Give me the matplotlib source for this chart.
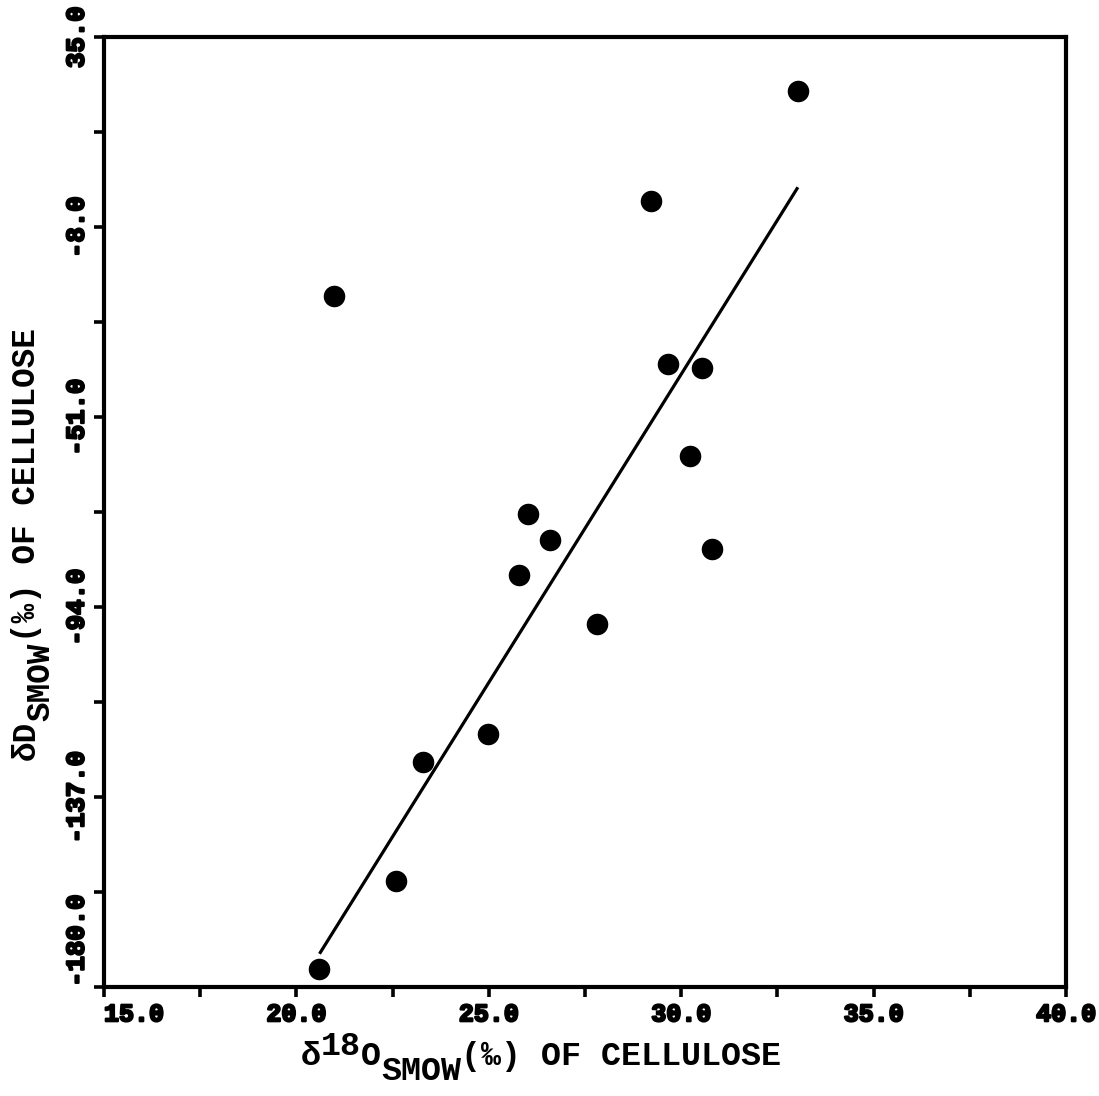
import matplotlib
matplotlib.use("Agg")
import matplotlib.pyplot as plt
import matplotlib.patheffects as pe
from matplotlib.ticker import FixedLocator
from matplotlib.transforms import offset_copy

# Isotope measurements of cellulose samples
d18o = [33.04, 29.21, 20.98, 29.65, 30.53, 30.23, 26.01, 26.6, 25.78, 30.81, 27.8, 24.97, 23.3, 22.6, 20.6]
dD = [22.8, -2.0, -23.6, -39.0, -39.9, -59.9, -73.0, -78.8, -86.8, -80.8, -97.8, -122.8, -129.1, -156.0, -175.9]

# Fitted line end points
fit_x = [20.6, 33.03]
fit_y = [-172.5, 1.0]

x_ticks = [15.0, 20.0, 25.0, 30.0, 35.0, 40.0]
x_ticklabels = ["15.0", "20.0", "25.0", "30.0", "35.0", "40.0"]
x_minor = [17.5, 22.5, 27.5, 32.5, 37.5]
y_ticks = [35.0, -8.0, -51.0, -94.0, -137.0, -180.0]
y_ticklabels = ["35.0", "-8.0", "-51.0", "-94.0", "-137.0", "-180.0"]
y_minor = [13.5, -29.5, -72.5, -115.5, -158.5]

# Axis titles as (text, character column, shift) pieces; shift: 0 normal, 1 raised, -1 lowered
x_title = [("\u03b4", 0, 0), ("18", 1, 1), ("O", 3, 0), ("SMOW", 4, -1), ("(\u2030) OF CELLULOSE", 8, 0)]
y_title = [("\u03b4D", 0, 0), ("SMOW", 2, -1), ("(\u2030) OF CELLULOSE", 6, 0)]

MONO = "Liberation Mono"

fig = plt.figure(figsize=(10.99, 10.96), dpi=100)
ax = fig.add_axes([0.0946, 0.0995, 0.8755, 0.8667])

ax.plot(fit_x, fit_y, color="black", lw=2.3, solid_capstyle="butt", zorder=2)
ax.plot(d18o, dD, "o", color="black", markersize=14.5, zorder=3)

ax.set_xlim(15, 40)
ax.set_ylim(-180, 35)

for s in ax.spines.values():
    s.set_linewidth(3)

ax.xaxis.set_major_locator(FixedLocator(x_ticks))
ax.xaxis.set_minor_locator(FixedLocator(x_minor))
ax.yaxis.set_major_locator(FixedLocator(y_ticks))
ax.yaxis.set_minor_locator(FixedLocator(y_minor))

heavy = [pe.withStroke(linewidth=1.6, foreground="black")]
ax.set_xticklabels(x_ticklabels, fontfamily=MONO, fontweight="bold", fontsize=18,
                   path_effects=heavy)
ax.set_yticklabels(y_ticklabels, fontfamily=MONO, fontweight="bold", fontsize=18.5,
                   rotation=90, va="center", path_effects=heavy)
ax.get_xticklabels()[0].set_ha("left")
ax.get_yticklabels()[-1].set_va("bottom")

ax.tick_params(which="both", direction="out", length=7, width=2.6)
ax.tick_params(axis="x", which="both", pad=4)
ax.tick_params(axis="y", which="both", pad=4)

# Axis titles in typewriter style: raised and lowered parts keep full size
lab = dict(fontfamily=MONO, fontweight="bold")

x_size = 24.0
x_pitch = 0.6 * x_size
x_anchor = (0.2739, 0.0283)
for txt, col, shift in x_title:
    tr = offset_copy(fig.transFigure, fig=fig, x=col * x_pitch,
                     y={1: 7.5, 0: 0.0, -1: -10.5}[shift], units="points")
    fig.text(*x_anchor, txt, ha="left", va="baseline", fontsize=x_size, transform=tr, **lab)

y_size = 23.5
y_pitch = 0.6 * y_size
y_anchor = (0.0320, 0.3066)
for txt, col, shift in y_title:
    tr = offset_copy(fig.transFigure, fig=fig, x={0: 0.0, -1: 10.5}[shift],
                     y=col * y_pitch, units="points")
    fig.text(*y_anchor, txt, ha="left", va="baseline", rotation=90,
             rotation_mode="anchor", fontsize=y_size, transform=tr, **lab)

fig.savefig("out.png", dpi=100)
